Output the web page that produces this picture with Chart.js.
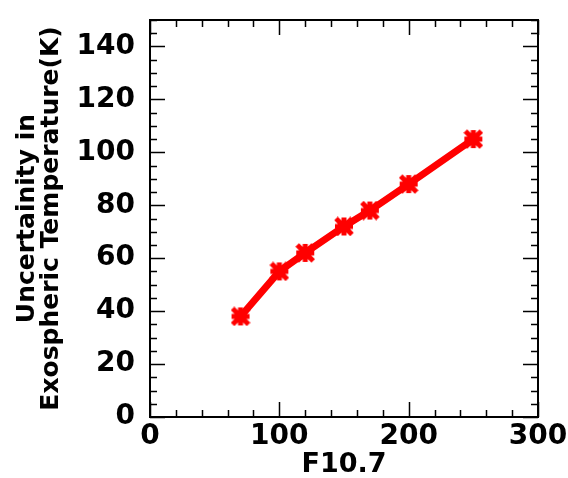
<!DOCTYPE html>
<html>
<head>
<meta charset="utf-8">
<script src="https://cdn.jsdelivr.net/npm/chart.js@4.4.1/dist/chart.umd.min.js"></script>
<style>
  html, body { margin: 0; padding: 0; background: #fff; }
  #wrap { width: 568px; height: 478px; }
</style>
</head>
<body>
<div id="wrap"><canvas id="grafico"></canvas></div>
<script>
// valores
const f107 = [70, 100, 120, 150, 170, 200, 250];
const incertidumbre = [38, 55, 62, 72, 78, 88, 105];
const xTicks = [0, 100, 200, 300];
const yTicks = [0, 20, 40, 60, 80, 100, 120, 140];
const xMinorStep = 20;
const yMinorStep = 5;

const fuente = 'DejaVu Sans';

// marca: mancha roja con forma de X
const marca = document.createElement('canvas');
marca.width = 20; marca.height = 20;
const mctx = marca.getContext('2d');
mctx.strokeStyle = '#ff0000';
mctx.fillStyle = '#ff0000';
mctx.lineWidth = 5;
mctx.beginPath();
mctx.moveTo(2, 2); mctx.lineTo(18, 18);
mctx.moveTo(18, 2); mctx.lineTo(2, 18);
mctx.moveTo(10, 1); mctx.lineTo(10, 19);
mctx.moveTo(1, 10); mctx.lineTo(19, 10);
mctx.stroke();
mctx.beginPath();
mctx.arc(10, 10, 6.5, 0, Math.PI * 2);
mctx.fill();

// ticks hacia adentro en los cuatro lados + marco
const marcoTicks = {
  id: 'marcoTicks',
  afterDraw(chart) {
    const ctx = chart.ctx;
    const { left, right, top, bottom } = chart.chartArea;
    const sx = chart.scales.x, sy = chart.scales.y;
    ctx.save();
    ctx.strokeStyle = '#000';
    ctx.lineWidth = 1.5;
    ctx.beginPath();
    for (let v = sx.min; v <= sx.max; v += xMinorStep) {
      const px = Math.round(sx.getPixelForValue(v)) + 0.5;
      const len = v % 100 === 0 ? 15 : 7;
      ctx.moveTo(px, bottom); ctx.lineTo(px, bottom - len);
      ctx.moveTo(px, top); ctx.lineTo(px, top + len);
    }
    for (let v = sy.min; v <= sy.max; v += yMinorStep) {
      const py = Math.round(sy.getPixelForValue(v)) + 0.5;
      const len = v % 20 === 0 ? 15 : 7;
      ctx.moveTo(left, py); ctx.lineTo(left + len, py);
      ctx.moveTo(right, py); ctx.lineTo(right - len, py);
    }
    ctx.stroke();
    ctx.lineWidth = 2;
    ctx.strokeRect(left, top, right - left, bottom - top);
    ctx.restore();
  }
};

const config = {
  type: 'line',
  data: {
    datasets: [{
      data: f107.map((x, i) => ({ x: x, y: incertidumbre[i] })),
      borderColor: '#ff0000',
      backgroundColor: '#ff0000',
      borderWidth: 7,
      pointStyle: marca,
      tension: 0
    }]
  },
  options: {
    responsive: true,
    maintainAspectRatio: false,
    animation: false,
    layout: { padding: { top: 20, right: 30, left: 0, bottom: 0 } },
    plugins: { legend: { display: false }, tooltip: { enabled: false } },
    scales: {
      x: {
        type: 'linear',
        min: 0, max: 300,
        afterBuildTicks: (s) => { s.ticks = xTicks.map(v => ({ value: v })); },
        afterFit: (s) => { s.height = 61; s.paddingLeft = 0; s.paddingRight = 0; },
        grid: { display: false, drawTicks: false },
        border: { display: false },
        ticks: { color: '#000', padding: 3, maxRotation: 0, font: { family: fuente, size: 28, weight: 'bold' } },
        title: {
          display: true, text: 'F10.7', color: '#000',
          padding: { top: 0, bottom: 0 },
          font: { family: fuente, size: 27, weight: 'bold', lineHeight: 1.0 }
        }
      },
      y: {
        type: 'linear',
        min: 0, max: 150,
        afterBuildTicks: (s) => { s.ticks = yTicks.map(v => ({ value: v })); },
        afterFit: (s) => { s.width = 150; s.paddingTop = 0; s.paddingBottom = 0; },
        grid: { display: false, drawTicks: false },
        border: { display: false },
        ticks: { color: '#000', padding: 15, font: { family: fuente, size: 28, weight: 'bold' } },
        title: {
          display: true, text: ['Uncertainity in', 'Exospheric Temperature(K)'], color: '#000',
          padding: { top: 15, bottom: 0 },
          font: { family: fuente, size: 25, weight: 'bold', lineHeight: 0.96 }
        }
      }
    }
  },
  plugins: [marcoTicks]
};

new Chart(document.getElementById('grafico'), config);
</script>
</body>
</html>
